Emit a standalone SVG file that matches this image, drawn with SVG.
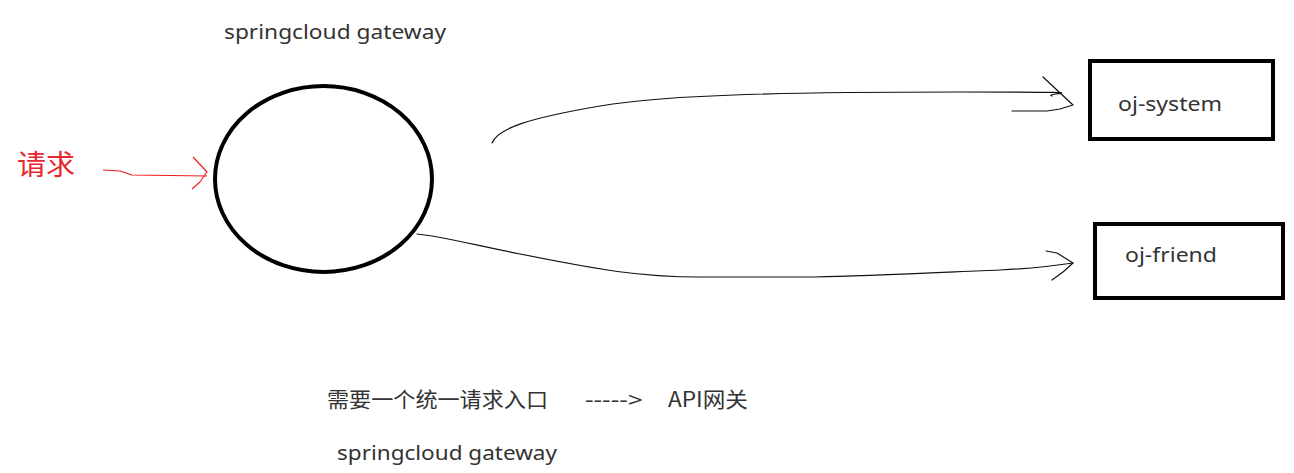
<svg xmlns="http://www.w3.org/2000/svg" width="1294" height="473" viewBox="0 0 1294 473">
<style>
.t{font-family:"Noto Sans","Noto Sans CJK SC",sans-serif;fill:#333;font-size:20px}
.c{font-family:"Noto Sans CJK SC","Noto Sans",sans-serif;fill:#333;font-size:21px}
.box{fill:none;stroke:#000;stroke-width:4}
.ln{fill:none;stroke:#111;stroke-width:1.2;stroke-linejoin:round;stroke-linecap:round}
.red{fill:none;stroke:#f01818;stroke-width:1.1;stroke-linejoin:round}
</style>
<rect width="1294" height="473" fill="#fff"/>
<g id="title"><text class="t" x="224" y="39" textLength="222" lengthAdjust="spacingAndGlyphs">springcloud gateway</text></g>
<g id="request"><text x="17" y="175" font-family="'Noto Sans CJK SC',sans-serif" font-size="28" fill="#e8262f" textLength="58" lengthAdjust="spacingAndGlyphs">请求</text></g>
<g id="gateway"><ellipse cx="323.5" cy="179" rx="108.5" ry="93" fill="none" stroke="#000" stroke-width="4"/></g>
<g id="oj-system"><rect class="box" x="1090" y="61" width="183" height="78"/><text class="t" x="1118" y="111" font-size="21" textLength="104" lengthAdjust="spacingAndGlyphs">oj-system</text></g>
<g id="oj-friend"><rect class="box" x="1095" y="224" width="188" height="74"/><text class="t" x="1125" y="262" font-size="21" textLength="92" lengthAdjust="spacingAndGlyphs">oj-friend</text></g>
<g id="connectors">
<path class="red" d="M103,170 L120,171 L132,175 L207,176"/>
<path class="red" d="M193,157 L207,172 L200,182 L192,189"/>
<path class="ln" d="M492,143 C498,128 530,118 600,106 S800,92 960,92 S1040,93 1052,96"/>
<path class="ln" d="M1043,77 L1073,105 L1060,109 L1047,111 L1012,111"/>
<path class="ln" d="M417,234 C440,236 470,244 520,254 C600,270 640,277 700,277 L815,277 C870,276 950,272 1000,270 C1040,268 1060,265 1073,263"/>
<path class="ln" d="M1046,251 L1057,253 L1073,263 L1063,272 L1052,280"/>
</g>
<g id="notes">
<text class="c" x="327" y="407" textLength="221" lengthAdjust="spacingAndGlyphs">需要一个统一请求入口</text>
<text class="t" x="585" y="407" textLength="58" lengthAdjust="spacingAndGlyphs">-----&gt;</text>
<text class="c" x="668" y="407" textLength="80" lengthAdjust="spacingAndGlyphs">API网关</text>
<text class="t" x="337" y="460" textLength="220" lengthAdjust="spacingAndGlyphs">springcloud gateway</text>
</g>
</svg>
